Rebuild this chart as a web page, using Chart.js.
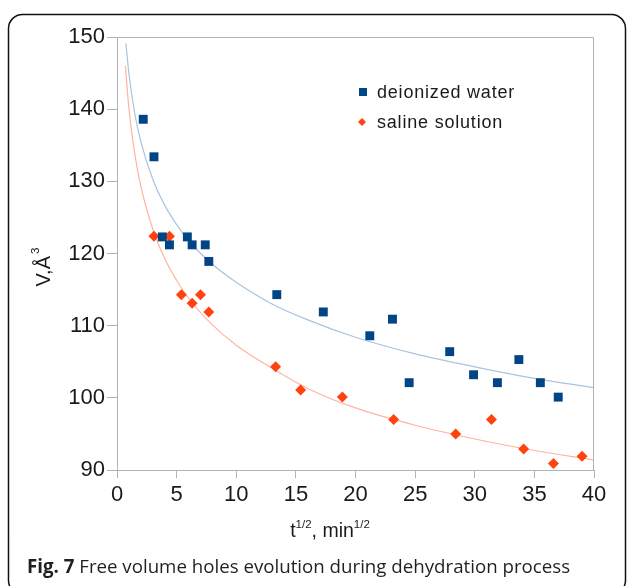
<!DOCTYPE html>
<html>
<head>
<meta charset="utf-8">
<script src="https://cdn.jsdelivr.net/npm/chart.js@4.4.1/dist/chart.umd.min.js"></script>
<style>
  html, body { margin: 0; padding: 0; background: #fff; }
  #wrap { width: 630px; height: 586px; position: relative; }
</style>
</head>
<body>
<div id="wrap"><canvas id="freeVolume" width="630" height="586"></canvas></div>
<script>
// deionized water - measured points
var waterX = [2.2, 3.1, 3.8, 4.4, 5.9, 6.3, 7.4, 7.7, 13.4, 17.3, 21.2, 23.1, 24.5, 27.9, 29.9, 31.9, 33.7, 35.5, 37.0];
var waterV = [138.6, 133.4, 122.3, 121.2, 122.3, 121.2, 121.2, 118.9, 114.3, 111.9, 108.6, 110.9, 102.1, 106.4, 103.2, 102.1, 105.3, 102.1, 100.1];

// saline solution - measured points
var salineX = [3.1, 4.4, 5.4, 6.3, 7.0, 7.7, 13.3, 15.4, 18.9, 23.2, 28.4, 31.4, 34.1, 36.6, 39.0];
var salineV = [122.4, 122.4, 114.3, 113.1, 114.3, 111.9, 104.3, 101.1, 100.1, 97.0, 95.0, 97.0, 92.9, 90.9, 91.9];

// trend lines
var waterFitX = [0.75, 1, 1.5, 2, 3, 4, 5, 6, 8, 10, 13, 16, 20, 25, 30, 35, 40];
var waterFitV = [149.1, 144.9, 139.3, 135.5, 130.3, 126.7, 124.0, 121.8, 118.5, 116.0, 113.0, 110.8, 108.4, 106.1, 104.3, 102.7, 101.4];
var salineFitX = [0.7, 1, 1.5, 2, 3, 4, 5, 6, 8, 10, 13, 16, 20, 25, 30, 35, 40];
var salineFitV = [146.0, 140.1, 133.7, 129.3, 123.4, 119.3, 116.3, 113.8, 110.1, 107.3, 104.1, 101.3, 98.6, 96.2, 94.3, 92.7, 91.4];

var seriesNames = ['deionized water', 'saline solution'];
var xTicks = [0, 5, 10, 15, 20, 25, 30, 35, 40];
var yTicks = [90, 100, 110, 120, 130, 140, 150];
var caption = ['Fig. 7', ' Free volume holes evolution during dehydration process'];

function toPoints(xs, ys) {
    return xs.map(function(x, i) { return { x: x, y: ys[i] }; });
}

var blue = '#004586';
var orange = '#ff420e';
var grey = '#b3b3b3';
var sans = 'Liberation Sans, Arimo, Arial, sans-serif';

// frame, legend, axis titles and caption
var decor = {
    id: 'decor',
    beforeDraw: function(chart) {
        var ctx = chart.ctx;
        ctx.save();
        ctx.strokeStyle = '#111';
        ctx.lineWidth = 1.5;
        ctx.beginPath();
        ctx.roundRect(8.5, 14.5, 617, 580, 14);
        ctx.stroke();
        ctx.restore();
    },
    afterDraw: function(chart) {
        var ctx = chart.ctx;
        var a = chart.chartArea;
        ctx.save();
        // top and right border of the plot
        ctx.strokeStyle = grey;
        ctx.lineWidth = 1;
        ctx.beginPath();
        ctx.moveTo(a.left, a.top + 0.5);
        ctx.lineTo(a.right - 0.5, a.top + 0.5);
        ctx.lineTo(a.right - 0.5, a.bottom);
        ctx.stroke();

        // legend
        ctx.fillStyle = '#1a1a1a';
        ctx.font = '18px ' + sans;
        ctx.letterSpacing = '0.8px';
        ctx.textBaseline = 'alphabetic';
        ctx.fillText(seriesNames[0], 377, 98);
        ctx.fillText(seriesNames[1], 377, 128);
        ctx.letterSpacing = '0px';
        ctx.fillStyle = blue;
        ctx.fillRect(359, 88, 8, 8);
        ctx.fillStyle = orange;
        ctx.beginPath();
        ctx.moveTo(362, 118);
        ctx.lineTo(366, 122);
        ctx.lineTo(362, 126);
        ctx.lineTo(358, 122);
        ctx.closePath();
        ctx.fill();

        // x title: t^1/2, min^1/2
        ctx.fillStyle = '#1a1a1a';
        var big = '19.5px ' + sans;
        var small = '11.5px ' + sans;
        var parts = [['t', big, 0], ['1/2', small, -9], [', min', big, 0], ['1/2', small, -9]];
        var total = 0;
        parts.forEach(function(p) { ctx.font = p[1]; total += ctx.measureText(p[0]).width; });
        var px = 330 - total / 2;
        parts.forEach(function(p) {
            ctx.font = p[1];
            ctx.fillText(p[0], px, 537 + p[2]);
            px += ctx.measureText(p[0]).width;
        });

        // y title: V,Å^3 rotated
        ctx.translate(50, 268);
        ctx.rotate(-Math.PI / 2);
        ctx.font = '20px ' + sans;
        var w1 = ctx.measureText('V,Å').width;
        ctx.font = small;
        var w2 = ctx.measureText('3').width;
        var sx = -(w1 + w2) / 2;
        ctx.font = '20px ' + sans;
        ctx.fillText('V,Å', sx, 0);
        ctx.font = small;
        ctx.fillText('3', sx + w1 + 2, -11);
        ctx.setTransform(1, 0, 0, 1, 0, 0);

        // caption
        ctx.fillStyle = '#231f20';
        ctx.font = 'bold 18.7px "Open Sans", sans-serif';
        ctx.fillText(caption[0], 27, 573);
        var cw = ctx.measureText(caption[0]).width;
        ctx.font = '18.7px "Open Sans", sans-serif';
        ctx.fillText(caption[1], 27 + cw, 573);
        ctx.restore();
    }
};

var config = {
    type: 'scatter',
    data: {
        datasets: [
            {
                label: seriesNames[0] + ' fit',
                data: toPoints(waterFitX, waterFitV),
                showLine: true,
                borderColor: '#a9c3e0',
                borderWidth: 1.2,
                pointRadius: 0,
                cubicInterpolationMode: 'monotone',
                order: 3
            },
            {
                label: seriesNames[1] + ' fit',
                data: toPoints(salineFitX, salineFitV),
                showLine: true,
                borderColor: '#ffb4a0',
                borderWidth: 1.2,
                pointRadius: 0,
                cubicInterpolationMode: 'monotone',
                order: 3
            },
            {
                label: seriesNames[0],
                data: toPoints(waterX, waterV),
                pointStyle: 'rect',
                pointRadius: 6.3,
                backgroundColor: blue,
                borderColor: blue,
                borderWidth: 0,
                order: 1
            },
            {
                label: seriesNames[1],
                data: toPoints(salineX, salineV),
                pointStyle: 'rectRot',
                pointRadius: 5.5,
                backgroundColor: orange,
                borderColor: orange,
                borderWidth: 0,
                order: 2
            }
        ]
    },
    options: {
        responsive: false,
        animation: false,
        layout: { padding: { left: 0, top: 37, right: 36, bottom: 0 } },
        plugins: {
            legend: { display: false },
            tooltip: { enabled: false }
        },
        scales: {
            x: {
                type: 'linear',
                min: 0,
                max: 40,
                afterBuildTicks: function(scale) {
                    scale.ticks = xTicks.map(function(v) { return { value: v }; });
                },
                afterFit: function(scale) { scale.height = 116; },
                grid: { drawOnChartArea: false, drawTicks: true, tickLength: 8, color: grey },
                border: { color: grey, width: 1 },
                ticks: {
                    color: '#1a1a1a',
                    padding: 4,
                    maxRotation: 0,
                    font: { family: sans, size: 22 }
                }
            },
            y: {
                type: 'linear',
                min: 90,
                max: 150,
                afterBuildTicks: function(scale) {
                    scale.ticks = yTicks.map(function(v) { return { value: v }; });
                },
                afterFit: function(scale) { scale.width = 117; },
                grid: { drawOnChartArea: false, drawTicks: true, tickLength: 10, color: grey },
                border: { color: grey, width: 1 },
                ticks: {
                    color: '#1a1a1a',
                    padding: 2,
                    font: { family: sans, size: 22 }
                }
            }
        }
    },
    plugins: [decor]
};

var chartFreeVolume;
Promise.all([
    document.fonts.load('22px "Liberation Sans"'),
    document.fonts.load('18px "Open Sans"'),
    document.fonts.load('bold 18px "Open Sans"')
]).catch(function() {}).then(function() {
    chartFreeVolume = new Chart(document.getElementById('freeVolume'), config);
});
</script>
</body>
</html>
